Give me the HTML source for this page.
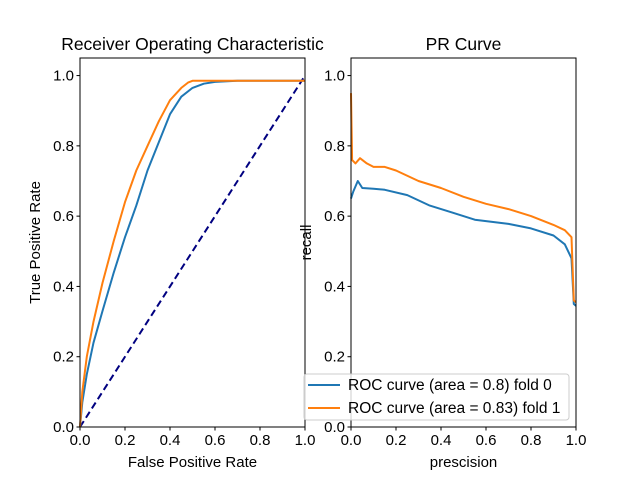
<!DOCTYPE html>
<html><head><meta charset="utf-8"><style>
body{margin:0;background:#fff}
svg text{font-family:"Liberation Sans","DejaVu Sans",sans-serif;fill:#000}
</style></head><body>
<svg id="c" width="640" height="480" xmlns="http://www.w3.org/2000/svg"></svg>
<script>
const tickLabels=["0.0","0.2","0.4","0.6","0.8","1.0"];
const tickValues=[0,0.2,0.4,0.6,0.8,1.0];
const rocFpr0=[0,0.01,0.03,0.06,0.1,0.15,0.2,0.25,0.3,0.35,0.4,0.45,0.5,0.55,0.6,0.7,1];
const rocTpr0=[0,0.07,0.15,0.24,0.33,0.44,0.54,0.63,0.73,0.81,0.89,0.94,0.965,0.977,0.982,0.985,0.985];
const rocFpr1=[0,0.01,0.03,0.06,0.1,0.15,0.2,0.25,0.3,0.35,0.4,0.45,0.48,0.5,1];
const rocTpr1=[0,0.1,0.2,0.3,0.41,0.53,0.64,0.73,0.8,0.87,0.93,0.965,0.98,0.985,0.985];
const prX0=[0,0.01,0.03,0.05,0.1,0.15,0.25,0.35,0.45,0.55,0.7,0.8,0.9,0.95,0.98,0.99,1];
const prY0=[0.65,0.67,0.7,0.68,0.678,0.675,0.66,0.63,0.61,0.59,0.578,0.565,0.545,0.52,0.48,0.35,0.345];
const prX1=[0,0.005,0.02,0.04,0.07,0.1,0.15,0.2,0.3,0.4,0.5,0.6,0.7,0.8,0.9,0.95,0.98,0.99,1];
const prY1=[0.95,0.76,0.75,0.765,0.75,0.74,0.74,0.73,0.7,0.68,0.655,0.635,0.62,0.6,0.575,0.56,0.54,0.36,0.355];
const NS="http://www.w3.org/2000/svg",svg=document.getElementById('c');
function mk(t,a,txt){const e=document.createElementNS(NS,t);for(const k in a)e.setAttribute(k,a[k]);if(txt!==undefined)e.textContent=txt;svg.appendChild(e);return e;}
function panel(x0,x1,y0,y1,title,xl,yl,series,name){
 const sx=v=>x0+v*(x1-x0), sy=v=>y1-v*(y1-y0)/1.05;
 for(const s of series){
  const d=s.x.map((v,i)=>(i?'L':'M')+sx(v).toFixed(1)+','+sy(s.y[i]).toFixed(1)).join('');
  const p=mk('path',{d:d,fill:'none',stroke:s.c,'stroke-width':2,'stroke-dasharray':s.dash||'none','stroke-linejoin':'round'});
  
  
 }
 const r=mk('rect',{x:x0,y:y0,width:x1-x0,height:y1-y0,fill:'none',stroke:'#000','stroke-width':1});
 
 
 tickValues.forEach((v,i)=>{
  mk('line',{x1:sx(v),x2:sx(v),y1:y1,y2:y1+3.5,stroke:'#000'});
  const tx=mk('text',{x:sx(v),y:y1+18,'font-size':15,'text-anchor':'middle'},tickLabels[i]);
  
  
  mk('line',{x1:x0-3.5,x2:x0,y1:sy(v),y2:sy(v),stroke:'#000'});
  const ty=mk('text',{x:x0-6,y:sy(v)+5,'font-size':15,'text-anchor':'end'},tickLabels[i]);
  
  
 });
 const t=mk('text',{x:(x0+x1)/2,y:y0-8,'font-size':17.5,'text-anchor':'middle'},title);
 
 
 const a=mk('text',{x:(x0+x1)/2,y:467,'font-size':15,'text-anchor':'middle'},xl);
 
 
 const b=mk('text',{x:0,y:0,'font-size':15,'text-anchor':'middle',transform:`translate(${x0-40},${(y0+y1)/2}) rotate(-90)`},yl);
 
 
}
panel(80,305,58,427,"Receiver Operating Characteristic","False Positive Rate","True Positive Rate",[
 {x:[0,1],y:[0,1],c:'#000080',dash:'7,4',n:'diagonal-line'},
 {x:rocFpr0,y:rocTpr0,c:'#1f77b4',n:'roc-fold-0'},
 {x:rocFpr1,y:rocTpr1,c:'#ff7f0e',n:'roc-fold-1'}],'roc');
panel(351,576,58,427,"PR Curve","prescision","recall",[
 {x:prX0,y:prY0,c:'#1f77b4',n:'pr-fold-0'},
 {x:prX1,y:prY1,c:'#ff7f0e',n:'pr-fold-1'}],'pr');
const lg=mk('rect',{x:304,y:374,width:265,height:46,rx:3,fill:'#fff','fill-opacity':0.8,stroke:'#ccc'});


[["ROC curve (area = 0.8) fold 0",'#1f77b4',385],["ROC curve (area = 0.83) fold 1",'#ff7f0e',408]].forEach(([s,c,y])=>{
 mk('line',{x1:308,x2:340,y1:y,y2:y,stroke:c,'stroke-width':2});
 const t=mk('text',{x:348,y:y+5,'font-size':15.5},s);
 
 
});
</script>
</body></html>
